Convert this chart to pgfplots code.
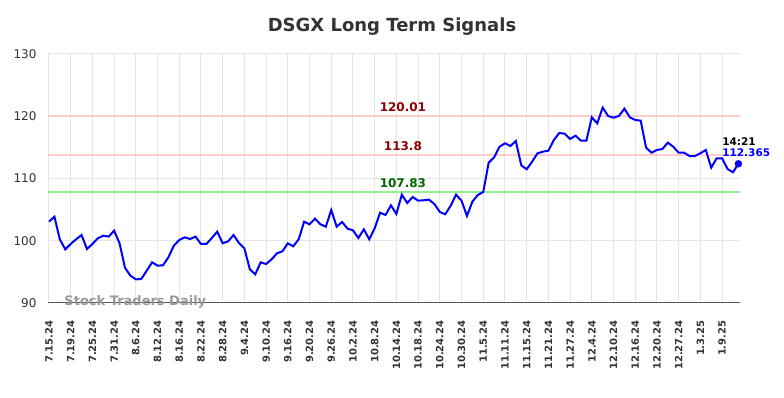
\documentclass[border=0pt]{standalone}
\usepackage{fontspec}
\setmainfont{DejaVu Sans}
\usepackage{pgfplots}
\pgfplotsset{compat=1.18}
\definecolor{titlegray}{HTML}{333333}
\definecolor{tickgray}{HTML}{333333}
\definecolor{gridgray}{HTML}{E6E6E6}
\definecolor{redline}{HTML}{FFCCCC}
\definecolor{greenline}{HTML}{90EE90}
\definecolor{darkred}{HTML}{8B0000}
\definecolor{darkgreen}{HTML}{006400}
\definecolor{wmgray}{HTML}{999999}
\begin{document}
\begin{tikzpicture}
\useasboundingbox (0,0) rectangle (784pt,398pt);
\node[font=\bfseries\fontsize{18}{19}\selectfont, text=titlegray] at (392pt,371pt) {DSGX Long Term Signals};
\begin{axis}[
  at={(48pt,95pt)}, anchor=south west,
  scale only axis, width=692pt, height=249pt,
  xmin=-0.18, xmax=127.3, ymin=90, ymax=130,
  ytick={90,100,110,120,130},
  xtick={0,4,...,124},
  xticklabels={7.15.24,7.19.24,7.25.24,7.31.24,8.6.24,8.12.24,8.16.24,8.22.24,8.28.24,9.4.24,9.10.24,9.16.24,9.20.24,9.26.24,10.2.24,10.8.24,10.14.24,10.18.24,10.24.24,10.30.24,11.5.24,11.11.24,11.15.24,11.21.24,11.27.24,12.4.24,12.10.24,12.16.24,12.20.24,12.27.24,1.3.25,1.9.25},
  xticklabel style={yshift=-14pt, rotate=90, anchor=east, font=\bfseries\fontsize{10}{10}\selectfont, text=tickgray},
  yticklabel style={xshift=-8pt, font=\fontsize{12}{13}\selectfont, text=tickgray},
  /pgf/number format/assume math mode=true,
  grid=major, major grid style={gridgray, line width=1pt},
  major tick length=0pt,
  axis x line*=bottom, axis y line*=left,
  x axis line style={-, draw=black!65, line width=1pt},
  y axis line style={draw=none},
  clip=false,
]
\node[anchor=west, text=wmgray, font=\bfseries\fontsize{13}{13}\selectfont] at (axis cs:2.2,90.2) {Stock Traders Daily};
\addplot[redline, line width=1.8pt] coordinates {(-0.18,120.01) (127.3,120.01)};
\addplot[redline, line width=1.8pt] coordinates {(-0.18,113.8) (127.3,113.8)};
\addplot[greenline, line width=1.8pt] coordinates {(-0.18,107.83) (127.3,107.83)};
\addplot[blue, line width=2pt] table {
0 103.06
1 103.87
2 100.23
3 98.62
4 99.48
5 100.23
6 100.92
7 98.67
8 99.48
9 100.39
10 100.82
11 100.66
12 101.62
13 99.59
14 95.67
15 94.38
16 93.80
17 93.85
18 95.19
19 96.53
20 96.00
21 96.05
22 97.34
23 99.20
24 100.12
25 100.55
26 100.28
27 100.66
28 99.48
29 99.48
30 100.44
31 101.46
32 99.59
33 99.91
34 100.92
35 99.64
36 98.78
37 95.41
38 94.61
39 96.53
40 96.26
41 97.01
42 97.98
43 98.30
44 99.59
45 99.11
46 100.23
47 103.06
48 102.64
49 103.55
50 102.64
51 102.26
52 104.94
53 102.26
54 103.01
55 101.94
56 101.67
57 100.44
58 101.84
59 100.23
60 102.00
61 104.51
62 104.14
63 105.69
64 104.30
65 107.40
66 106.06
67 107.03
68 106.44
69 106.50
70 106.60
71 105.90
72 104.62
73 104.25
74 105.63
75 107.40
76 106.44
77 103.98
78 106.28
79 107.35
80 107.83
81 112.54
82 113.40
83 115.11
84 115.65
85 115.22
86 116.02
87 112.12
88 111.48
89 112.70
90 114.05
91 114.31
92 114.47
93 116.18
94 117.31
95 117.20
96 116.35
97 116.88
98 116.07
99 116.07
100 119.83
101 118.86
102 121.38
103 120.04
104 119.77
105 120.04
106 121.22
107 119.83
108 119.40
109 119.29
110 114.95
111 114.14
112 114.58
113 114.74
114 115.76
115 115.11
116 114.14
117 114.14
118 113.61
119 113.61
120 114.05
121 114.58
122 111.74
123 113.24
124 113.24
125 111.53
126 111.00
127 112.365
};
\addplot[only marks, mark=*, blue, mark size=3.5pt] coordinates {(127,112.365)};
\node[anchor=south, text=darkred, font=\bfseries\fontsize{12}{13}\selectfont, inner sep=1pt] at (axis cs:65.2,120.5) {120.01};
\node[anchor=south, text=darkred, font=\bfseries\fontsize{12}{13}\selectfont, inner sep=1pt] at (axis cs:65.2,114.3) {113.8};
\node[anchor=south, text=darkgreen, font=\bfseries\fontsize{12}{13}\selectfont, inner sep=1pt] at (axis cs:65.2,108.3) {107.83};
\node[anchor=west, text=black, font=\bfseries\fontsize{10.5}{11}\selectfont, inner sep=0pt] at (axis cs:124,116.0) {14:21};
\node[anchor=west, text=blue, font=\bfseries\fontsize{10.5}{11}\selectfont, inner sep=0pt] at (axis cs:124,114.1) {112.365};
\end{axis}
\end{tikzpicture}
\end{document}
